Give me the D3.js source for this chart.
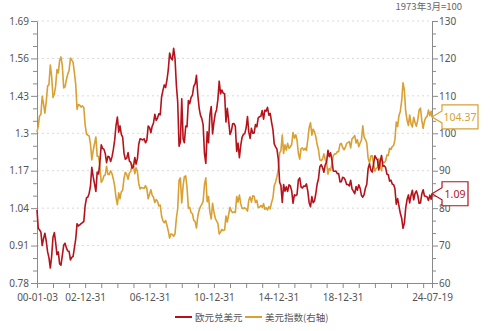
<!DOCTYPE html>
<html>
<head>
<meta charset="utf-8">
<script src="https://cdn.jsdelivr.net/npm/d3@7/dist/d3.min.js"></script>
<style>
  html, body { margin: 0; padding: 0; background: #fff; }
  svg { display: block; font-family: "Noto Sans CJK SC", "Noto Sans", sans-serif; }
</style>
</head>
<body>
<svg id="chart" width="490" height="331"></svg>
<script>
// EUR/USD, first trading day, then month-end values Jan 2000 – Jun 2024, then the last day
const eurUsd = [
  1.034,
  0.970, 0.965, 0.957, 0.910, 0.935, 0.953, 0.925, 0.888, 0.868, 0.832, 0.872, 0.939,
  0.955, 0.922, 0.878, 0.888, 0.846, 0.842, 0.876, 0.911, 0.918, 0.902, 0.891, 0.890,
  0.860, 0.869, 0.872, 0.901, 0.933, 0.986, 0.978, 0.982, 0.986, 0.990, 0.993, 1.049,
  1.076, 1.078, 1.091, 1.116, 1.182, 1.150, 1.124, 1.098, 1.165, 1.159, 1.199, 1.260,
  1.247, 1.245, 1.230, 1.198, 1.220, 1.218, 1.202, 1.218, 1.243, 1.276, 1.327, 1.356,
  1.304, 1.326, 1.296, 1.287, 1.230, 1.210, 1.213, 1.233, 1.203, 1.199, 1.179, 1.184,
  1.216, 1.193, 1.212, 1.262, 1.281, 1.279, 1.277, 1.281, 1.267, 1.276, 1.325, 1.320,
  1.302, 1.324, 1.336, 1.366, 1.345, 1.353, 1.368, 1.364, 1.426, 1.449, 1.468, 1.459,
  1.486, 1.520, 1.579, 1.561, 1.555, 1.595, 1.560, 1.467, 1.409, 1.255, 1.270, 1.420,
  1.280, 1.267, 1.325, 1.323, 1.414, 1.403, 1.425, 1.433, 1.464, 1.472, 1.501, 1.432,
  1.386, 1.363, 1.351, 1.330, 1.229, 1.195, 1.305, 1.267, 1.363, 1.393, 1.298, 1.338,
  1.369, 1.381, 1.417, 1.481, 1.437, 1.450, 1.439, 1.437, 1.339, 1.387, 1.344, 1.296,
  1.308, 1.333, 1.334, 1.324, 1.237, 1.266, 1.215, 1.258, 1.286, 1.296, 1.299, 1.319,
  1.358, 1.306, 1.282, 1.317, 1.300, 1.301, 1.330, 1.322, 1.353, 1.358, 1.359, 1.379,
  1.349, 1.380, 1.377, 1.390, 1.363, 1.369, 1.339, 1.313, 1.263, 1.253, 1.245, 1.210,
  1.129, 1.119, 1.060, 1.122, 1.099, 1.114, 1.098, 1.121, 1.117, 1.100, 1.057, 1.086,
  1.083, 1.087, 1.138, 1.145, 1.113, 1.110, 1.117, 1.116, 1.124, 1.098, 1.059, 1.045,
  1.080, 1.059, 1.065, 1.090, 1.124, 1.142, 1.184, 1.191, 1.181, 1.165, 1.190, 1.200,
  1.241, 1.219, 1.232, 1.208, 1.169, 1.168, 1.169, 1.160, 1.160, 1.131, 1.132, 1.147,
  1.145, 1.137, 1.122, 1.122, 1.117, 1.137, 1.107, 1.099, 1.090, 1.115, 1.102, 1.121,
  1.109, 1.085, 1.078, 1.087, 1.110, 1.123, 1.178, 1.194, 1.172, 1.165, 1.193, 1.222,
  1.213, 1.207, 1.173, 1.202, 1.223, 1.186, 1.187, 1.181, 1.158, 1.156, 1.134, 1.137,
  1.123, 1.122, 1.107, 1.054, 1.073, 1.048, 1.022, 1.005, 0.970, 0.988, 1.040, 1.070,
  1.086, 1.058, 1.084, 1.102, 1.069, 1.091, 1.100, 1.084, 1.057, 1.058, 1.089, 1.104,
  1.082, 1.081, 1.079, 1.067, 1.085, 1.071,
  1.09
];

// US dollar index (1973-03 = 100), same dates
const dollarIndex = [
  100.3,
  101.9, 104.6, 105.0, 109.9, 107.8, 105.4, 108.5, 112.6, 113.0, 118.2, 115.3, 109.6,
  110.5, 112.6, 117.0, 116.1, 119.5, 120.4, 118.0, 112.1, 112.4, 114.3, 115.8, 116.8,
  120.1, 119.6, 119.0, 116.3, 113.0, 106.4, 107.7, 107.5, 107.0, 107.3, 106.9, 102.2,
  99.8, 99.5, 99.3, 97.2, 92.9, 95.3, 97.2, 99.0, 93.9, 93.8, 91.2, 86.9,
  87.5, 88.6, 88.9, 91.2, 89.0, 89.0, 90.0, 89.2, 87.8, 85.8, 82.9, 80.9,
  84.1, 82.5, 84.4, 84.8, 88.0, 89.6, 89.0, 87.7, 89.4, 89.8, 91.6, 91.2,
  89.2, 90.8, 89.8, 86.6, 85.1, 85.5, 85.4, 85.3, 86.0, 85.2, 82.5, 83.7,
  84.9, 83.5, 82.9, 81.5, 82.3, 81.8, 80.6, 80.8, 77.9, 76.6, 76.1, 76.7,
  75.4, 73.9, 72.0, 73.1, 73.0, 72.5, 73.1, 77.3, 79.9, 87.5, 88.1, 81.4,
  86.0, 88.4, 88.6, 85.4, 80.0, 80.2, 78.8, 78.5, 76.7, 76.4, 74.7, 77.9,
  79.5, 80.4, 81.0, 81.8, 86.4, 88.1, 81.7, 83.1, 79.0, 77.1, 81.3, 79.0,
  77.3, 76.6, 75.9, 73.1, 73.6, 74.3, 74.0, 74.2, 77.9, 76.3, 78.3, 80.2,
  79.2, 78.8, 79.0, 78.8, 83.1, 81.6, 83.5, 81.2, 79.9, 79.9, 80.1, 79.8,
  79.2, 82.1, 83.0, 81.6, 83.3, 83.2, 81.5, 82.1, 80.2, 80.2, 80.7, 80.2,
  81.2, 79.7, 80.1, 79.5, 80.4, 79.8, 81.5, 82.7, 86.0, 87.0, 88.4, 90.3,
  94.8, 95.3, 99.5, 94.6, 96.9, 95.5, 97.3, 96.0, 96.4, 97.0, 100.2, 98.7,
  99.6, 98.2, 94.6, 93.1, 95.9, 96.1, 95.5, 96.0, 95.4, 98.4, 101.5, 102.8,
  99.5, 101.1, 100.4, 99.1, 97.0, 95.6, 92.9, 92.7, 93.1, 94.5, 93.0, 92.1,
  89.1, 90.6, 90.1, 91.8, 94.0, 94.5, 94.5, 95.1, 95.1, 97.1, 97.3, 96.2,
  95.6, 96.2, 97.3, 97.5, 97.8, 96.1, 98.5, 98.9, 99.4, 97.4, 98.3, 96.4,
  97.4, 98.1, 102.0, 99.0, 98.3, 97.4, 93.3, 92.1, 93.9, 94.0, 91.9, 89.9,
  90.6, 90.9, 93.2, 91.3, 90.0, 92.4, 92.2, 92.6, 94.2, 94.1, 96.0, 95.7,
  96.5, 96.7, 98.3, 103.0, 101.8, 104.7, 105.9, 108.7, 113.5, 111.5, 105.9, 103.5,
  102.1, 104.9, 102.5, 101.7, 104.3, 102.9, 101.9, 103.6, 106.2, 106.7, 103.5, 101.3,
  103.3, 104.2, 104.5, 106.2, 104.7, 105.9,
  104.37
];

const startDate = "2000-01-03";
const endDate = "2024-07-19";
const leftTicks = [0.78, 0.91, 1.04, 1.17, 1.3, 1.43, 1.56, 1.69];
const rightTicks = [60, 70, 80, 90, 100, 110, 120, 130];
const xLabels = ["00-01-03", "02-12-31", "06-12-31", "10-12-31", "14-12-31", "18-12-31", "24-07-19"];
const seriesNames = ["欧元兑美元", "美元指数(右轴)"];
const baseNote = "1973年3月=100";

const RED = "#b5121b";
const GOLD = "#d9a033";
const AXIS = "#8a8a8a";
const TEXT = "#555";

const parse = d3.timeParse("%Y-%m-%d");
const fmtLabel = d3.timeFormat("%y-%m-%d");
const t0 = parse(startDate), t1 = parse(endDate);

// dates: first day, each month end, last day
const monthEnds = d3.timeMonth.range(d3.timeMonth.offset(d3.timeMonth.floor(t0), 1),
                                     d3.timeMonth.floor(t1)).map(d => d3.timeDay.offset(d, -1));
monthEnds.push(d3.timeDay.offset(d3.timeMonth.floor(t1), -1));
const dates = [t0, ...monthEnds, t1];

const svg = d3.select("#chart");
const m = { left: 37, right: 432, top: 21, bottom: 283 };

const x = d3.scaleTime().domain([t0, t1]).range([m.left, m.right]);
const yL = d3.scaleLinear().domain([0.78, 1.69]).range([m.bottom, m.top]);
const yR = d3.scaleLinear().domain([60, 130]).range([m.bottom, m.top]);

// dashed gridlines
svg.append("g").selectAll("line")
  .data(leftTicks.slice(1))
  .join("line")
  .attr("x1", m.left).attr("x2", m.right)
  .attr("y1", d => yL(d)).attr("y2", d => yL(d))
  .attr("stroke", "#d9d9d9").attr("stroke-width", 1)
  .attr("stroke-dasharray", "2,3");

// year-end ticks for the x axis
const yearEnds = d3.range(2000, 2024).map(y => new Date(y, 11, 31));
const xTickDates = [t0, ...yearEnds, t1];

const xAxis = d3.axisBottom(x)
  .tickValues(xTickDates)
  .tickSize(5)
  .tickFormat(d => xLabels.includes(fmtLabel(d)) ? fmtLabel(d) : "");

const minor = (ticks) => {
  const out = [];
  for (let i = 0; i < ticks.length - 1; i++) {
    const s = (ticks[i + 1] - ticks[i]) / 3;
    out.push(ticks[i] + s, ticks[i] + 2 * s);
  }
  return out;
};

function styleAxis(g) {
  g.select(".domain").attr("stroke", AXIS);
  g.selectAll(".tick line").attr("stroke", AXIS);
  g.selectAll(".tick text").attr("fill", TEXT).style("font-size", "10px")
    .style("font-family", "'Noto Sans', 'DejaVu Sans', sans-serif");
}

// minor ticks
svg.append("g").attr("transform", `translate(${m.left},0)`)
  .call(d3.axisLeft(yL).tickValues(minor(leftTicks)).tickSize(4).tickFormat(""))
  .call(g => g.select(".domain").remove())
  .call(styleAxis);
svg.append("g").attr("transform", `translate(${m.right},0)`)
  .call(d3.axisRight(yR).tickValues(minor(rightTicks)).tickSize(4).tickFormat(""))
  .call(g => g.select(".domain").remove())
  .call(styleAxis);

svg.append("g").attr("transform", `translate(0,${m.bottom})`)
  .call(xAxis.tickSizeOuter(0))
  .call(styleAxis)
  .call(g => g.selectAll(".tick text").attr("dy", "1.0em"));

svg.append("g").attr("transform", `translate(${m.left},0)`)
  .call(d3.axisLeft(yL).tickValues(leftTicks).tickSize(6).tickSizeOuter(0).tickPadding(2)
    .tickFormat(d => d3.format("")(d)))
  .call(styleAxis);

svg.append("g").attr("transform", `translate(${m.right},0)`)
  .call(d3.axisRight(yR).tickValues(rightTicks).tickSize(6).tickSizeOuter(0).tickPadding(1))
  .call(styleAxis);

// lines
const lineL = d3.line().x((d, i) => x(dates[i])).y(d => yL(d));
const lineR = d3.line().x((d, i) => x(dates[i])).y(d => yR(d));

svg.append("path").datum(dollarIndex)
  .attr("d", lineR).attr("fill", "none")
  .attr("stroke", GOLD).attr("stroke-width", 1.6).attr("stroke-linejoin", "round");
svg.append("path").datum(eurUsd)
  .attr("d", lineL).attr("fill", "none")
  .attr("stroke", RED).attr("stroke-width", 1.6).attr("stroke-linejoin", "round");

// end-value callouts
function callout(px, py, text, color, w) {
  const bx = px + 10, h = 24;
  const g = svg.append("g");
  g.append("path")
    .attr("d", `M${px},${py} L${bx},${py - 6} L${bx},${py - h / 2} L${bx + w},${py - h / 2}
                L${bx + w},${py + h / 2} L${bx},${py + h / 2} L${bx},${py + 6} Z`)
    .attr("fill", "#fff").attr("stroke", color).attr("stroke-width", 1.2);
  g.append("text")
    .attr("x", bx + w / 2).attr("y", py + 4)
    .attr("text-anchor", "middle")
    .attr("fill", color)
    .style("font-size", "10.5px")
    .style("font-family", "'Noto Sans', 'DejaVu Sans', sans-serif")
    .text(text);
}
callout(x(t1), yR(dollarIndex[dollarIndex.length - 1]), d3.format(".2f")(dollarIndex[dollarIndex.length - 1]), GOLD, 36);
callout(x(t1), yL(eurUsd[eurUsd.length - 1]), d3.format(".2f")(eurUsd[eurUsd.length - 1]), RED, 26);

// unit note
svg.append("text")
  .attr("x", 462).attr("y", 10)
  .attr("text-anchor", "end")
  .attr("fill", "#666")
  .style("font-size", "9.5px")
  .text(baseNote);

// legend
const legend = svg.append("g").attr("transform", "translate(175,317)");
const items = [{ name: seriesNames[0], color: RED, x: 0 }, { name: seriesNames[1], color: GOLD, x: 70 }];
items.forEach(it => {
  legend.append("line")
    .attr("x1", it.x).attr("x2", it.x + 17).attr("y1", 0).attr("y2", 0)
    .attr("stroke", it.color).attr("stroke-width", 2);
  legend.append("text")
    .attr("x", it.x + 20).attr("y", 3.5)
    .attr("fill", "#555")
    .style("font-size", "9.5px")
    .text(it.name);
});
</script>
</body>
</html>
